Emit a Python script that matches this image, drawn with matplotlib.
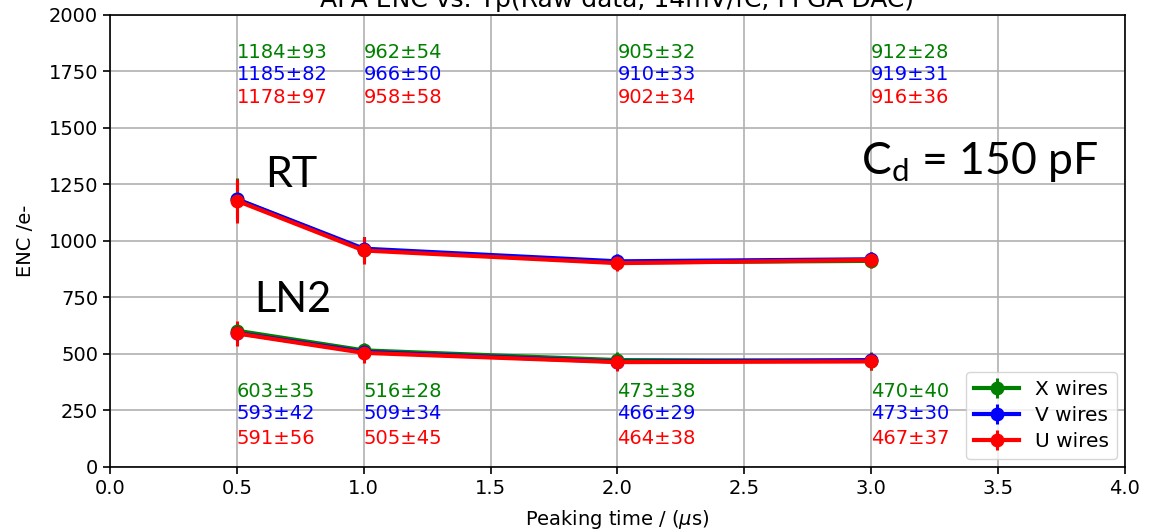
import matplotlib
matplotlib.use("Agg")
import matplotlib.pyplot as plt

# Peaking times (us)
tp = [0.5, 1.0, 2.0, 3.0]

# Room temperature ENC (e-) and uncertainties
rt_x = [1184, 962, 905, 912]
rt_x_err = [93, 54, 32, 28]
rt_v = [1185, 966, 910, 919]
rt_v_err = [82, 50, 33, 31]
rt_u = [1178, 958, 902, 916]
rt_u_err = [97, 58, 34, 36]

# Liquid nitrogen ENC (e-) and uncertainties
ln_x = [603, 516, 473, 470]
ln_x_err = [35, 28, 38, 40]
ln_v = [593, 509, 466, 473]
ln_v_err = [42, 34, 29, 30]
ln_u = [591, 505, 464, 467]
ln_u_err = [56, 45, 38, 37]

labels = ["X wires", "V wires", "U wires"]
colors = ["green", "blue", "red"]

fig = plt.figure(figsize=(11.53, 5.30), dpi=100)
ax = fig.add_axes([0.0954, 0.1189, 0.8803, 0.8528])

rt_sets = [(rt_x, rt_x_err), (rt_v, rt_v_err), (rt_u, rt_u_err)]
ln_sets = [(ln_x, ln_x_err), (ln_v, ln_v_err), (ln_u, ln_u_err)]

for (vals, errs), c, lab in zip(rt_sets, colors, labels):
    ax.errorbar(tp, vals, yerr=errs, color=c, marker="o", markersize=9,
                linewidth=3, elinewidth=2.2, label=lab)
for (vals, errs), c in zip(ln_sets, colors):
    ax.errorbar(tp, vals, yerr=errs, color=c, marker="o", markersize=9,
                linewidth=3, elinewidth=2.2)

# value annotations
rt_rows = [1835, 1735, 1635]
ln_rows = [336, 235, 128]
for (vals, errs), c, yr in zip(rt_sets, colors, rt_rows):
    for t, v, e in zip(tp, vals, errs):
        ax.text(t, yr, f"{v}\u00b1{e}", color=c, fontsize=14,
                ha="left", va="center")
for (vals, errs), c, yr in zip(ln_sets, colors, ln_rows):
    for t, v, e in zip(tp, vals, errs):
        ax.text(t, yr, f"{v}\u00b1{e}", color=c, fontsize=14,
                ha="left", va="center")

ax.text(0.715, 1292, "RT", fontsize=31, family="Lato", ha="center", va="center")
ax.text(0.72, 739, "LN2", fontsize=30, family="Lato", ha="center", va="center")
ax.text(2.96, 1350, "C$_{\\mathregular{d}}$ = 150 pF", fontsize=32, family="Lato",
        ha="left", va="center")

ax.set_xlim(0, 4.0)
ax.set_ylim(0, 2000)
ax.set_xticks([0, 0.5, 1.0, 1.5, 2.0, 2.5, 3.0, 3.5, 4.0])
ax.set_yticks([0, 250, 500, 750, 1000, 1250, 1500, 1750, 2000])
ax.tick_params(labelsize=14, length=5, width=1.2)
for s in ax.spines.values():
    s.set_linewidth(1.2)
ax.grid(True, color="#b0b0b0", linewidth=1.2)
ax.set_xlabel("Peaking time / ($\\mu$s)", fontsize=14, labelpad=7)
ax.set_ylabel("ENC /e-", fontsize=14, labelpad=10)
ax.set_title("APA ENC vs. Tp(Raw data, 14mV/fC, FPGA DAC)", fontsize=18, pad=6)

ax.legend(loc="lower right", fontsize=14.5, handlelength=2.2,
          borderaxespad=0.4, labelspacing=0.35)

fig.savefig("out.png", dpi=100)
